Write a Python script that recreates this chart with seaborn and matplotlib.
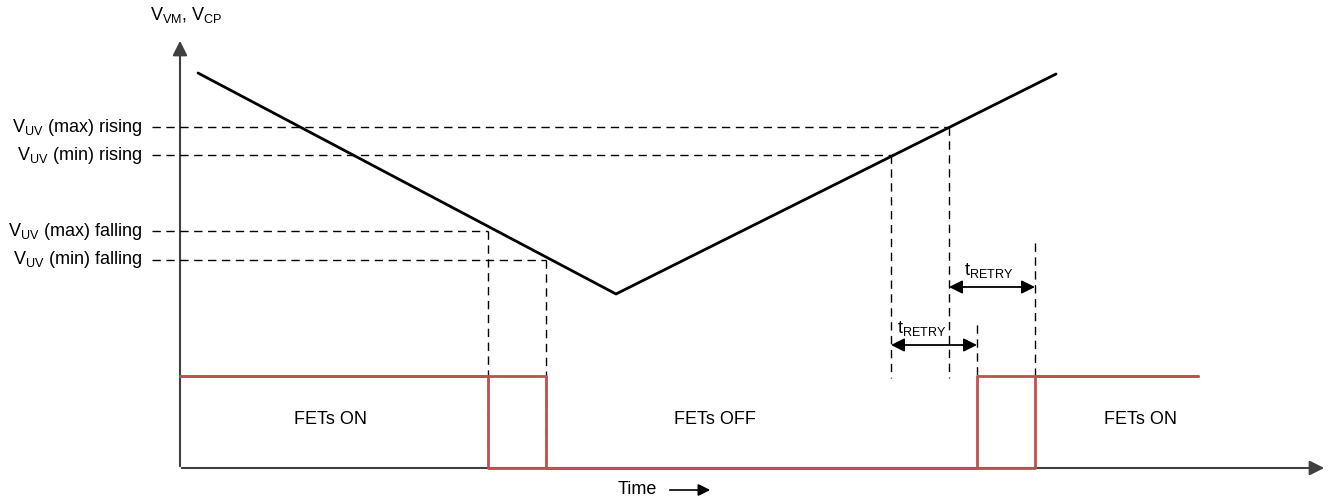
import matplotlib
matplotlib.use("Agg")
import matplotlib.pyplot as plt
import seaborn as sns

# diagram units: time to the right, voltage drawn downward (y axis inverted)
v_time = [198, 616, 1056]
v_level = [73, 294, 74]

threshold_labels = ["$\\mathregular{V_{UV}}$ (max) rising", "$\\mathregular{V_{UV}}$ (min) rising",
                    "$\\mathregular{V_{UV}}$ (max) falling", "$\\mathregular{V_{UV}}$ (min) falling"]
threshold_levels = [127, 155, 231, 260]
threshold_cross = [949, 891, 488, 546]

fet_max_time = [180, 488, 488, 1035, 1035, 1198]
fet_min_time = [180, 546, 546, 977, 977, 1198]
fet_state = [376, 376, 468, 468, 376, 376]

retry_start = [891, 949]
retry_end = [977, 1035]
retry_y = [345, 287]
retry_label_x = [922, 989]

state_labels = ["FETs ON", "FETs OFF", "FETs ON"]
state_x = [330, 715, 1140]

sns.set_style("white")
plt.rcParams["font.family"] = ["Liberation Sans", "DejaVu Sans"]
plt.rcParams["mathtext.fontset"] = "custom"
plt.rcParams["mathtext.rm"] = "Liberation Sans"
plt.rcParams["text.color"] = "black"

fig = plt.figure(figsize=(13.43, 5), dpi=100)
ax = fig.add_axes([0, 0, 1, 1])
ax.set_xlim(0, 1343)
ax.set_ylim(500, 0)
ax.axis("off")

axis_col = "#404040"
red = "#C0504D"
fs = 13

# axes with arrows
ax.annotate("", xy=(180, 38), xytext=(180, 469),
            arrowprops=dict(arrowstyle="-|>", color=axis_col, lw=1.5, mutation_scale=22), zorder=1)
ax.annotate("", xy=(1327, 468), xytext=(179, 468),
            arrowprops=dict(arrowstyle="-|>", color=axis_col, lw=1.5, mutation_scale=22), zorder=1)
ax.text(186, 15, "$\\mathregular{V_{VM}}$, $\\mathregular{V_{CP}}$", fontsize=fs, ha="center", va="center")

# thresholds
for lab, lev, cx in zip(threshold_labels, threshold_levels, threshold_cross):
    ax.plot([152, cx], [lev, lev], color="black", lw=1, dashes=(6, 4))
    ax.text(142, lev, lab, fontsize=fs, ha="right", va="center")
    bottom = 468 if cx < 600 else 378
    ax.plot([cx, cx], [lev, bottom], color="black", lw=1, dashes=(6, 4))

ax.plot([977, 977], [325, 376], color="black", lw=1, dashes=(6, 4))
ax.plot([1035, 1035], [243, 376], color="black", lw=1, dashes=(6, 4))

# supply voltage
sns.lineplot(x=v_time, y=v_level, ax=ax, color="black", lw=2, sort=False, estimator=None, zorder=4)

# FET state
sns.lineplot(x=fet_max_time, y=fet_state, ax=ax, color=red, lw=2, sort=False, estimator=None, zorder=5)
sns.lineplot(x=fet_min_time, y=fet_state, ax=ax, color=red, lw=2, sort=False, estimator=None, zorder=5)

for lab, sx in zip(state_labels, state_x):
    ax.text(sx, 419, lab, fontsize=fs, ha="center", va="center")

# retry times
for x0, x1, yy, lx in zip(retry_start, retry_end, retry_y, retry_label_x):
    ax.annotate("", xy=(x1, yy), xytext=(x0, yy),
                arrowprops=dict(arrowstyle="<|-|>", color="black", lw=1.3, mutation_scale=20,
                                shrinkA=0, shrinkB=0))
    ax.text(lx, yy - 16, "$\\mathregular{t_{RETRY}}$", fontsize=fs, ha="center", va="center")

# time label
ax.text(637, 489, "Time", fontsize=fs, ha="center", va="center")
ax.annotate("", xy=(713, 490), xytext=(667, 490),
            arrowprops=dict(arrowstyle="-|>", color="black", lw=1.2, mutation_scale=18))

fig.savefig("out.png", dpi=100)
